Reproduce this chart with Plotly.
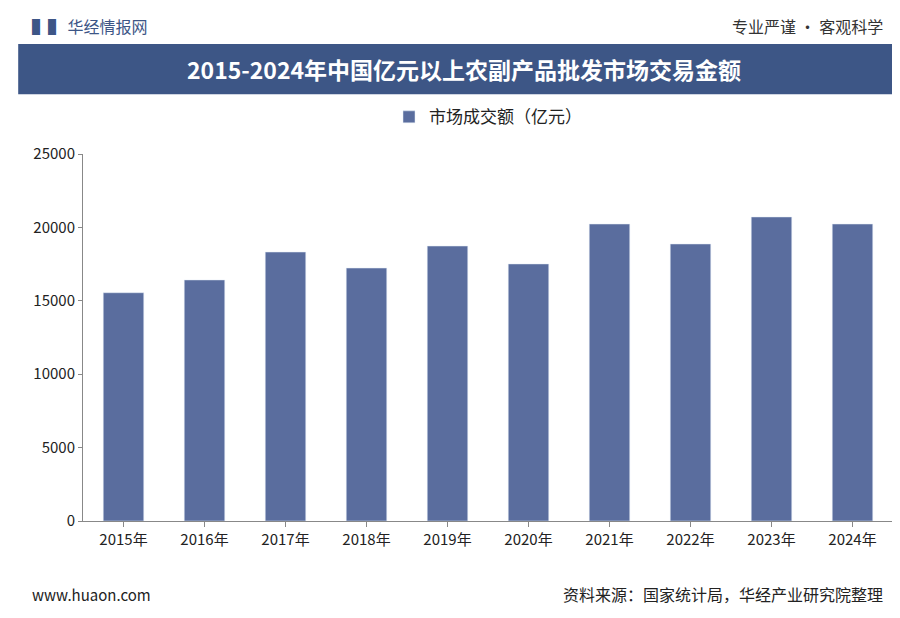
import plotly.graph_objects as go

# Market transaction data (100 million yuan)
years = ['2015年', '2016年', '2017年', '2018年', '2019年', '2020年', '2021年', '2022年', '2023年', '2024年']
amount = [15550, 16420, 18320, 17230, 18730, 17510, 20230, 18870, 20710, 20230]

# Create the plot
fig = go.Figure()
fig.add_trace(go.Bar(x=years, y=amount, name='市场成交额（亿元）', marker_color='#5a6d9e', width=0.5))

# Header, banner and footer
fig.add_shape(type='rect', xref='paper', yref='paper', x0=-0.08, x1=1.006, y0=1.163, y1=1.3,
              fillcolor='#3d5686', line_width=0, layer='below')
fig.add_annotation(text='<b>2015-2024年中国亿元以上农副产品批发市场交易金额</b>', xref='paper', yref='paper',
                   x=0.47, y=1.232, yanchor='middle', showarrow=False, font=dict(size=23, color='white'))
fig.add_annotation(text='<b>▌▌</b> 华经情报网', xref='paper', yref='paper', x=-0.065, y=1.35, xanchor='left',
                   yanchor='middle', showarrow=False, font=dict(size=16, color='#3d5686'))
fig.add_annotation(text='专业严谨 • 客观科学', xref='paper', yref='paper', x=0.99, y=1.35, xanchor='right',
                   yanchor='middle', showarrow=False, font=dict(size=16, color='#333'))
fig.add_annotation(text='www.huaon.com', xref='paper', yref='paper', x=-0.065, y=-0.2, xanchor='left',
                   yanchor='middle', showarrow=False, font=dict(size=15, color='#222'))
fig.add_annotation(text='资料来源：国家统计局，华经产业研究院整理', xref='paper', yref='paper', x=0.99, y=-0.2,
                   xanchor='right', yanchor='middle', showarrow=False, font=dict(size=16, color='#222'))

fig.update_layout(
    width=900, height=618, plot_bgcolor='white', paper_bgcolor='white',
    margin=dict(l=75, r=15, t=146, b=105),
    font=dict(family='Noto Sans CJK SC', size=15, color='#222'),
    legend=dict(orientation='h', x=0.5, xanchor='center', y=1.1, yanchor='middle', font=dict(size=17)),
    showlegend=True,
    yaxis=dict(range=[0, 25000], dtick=5000, tickformat='d', showgrid=False, showline=True, linecolor='#888',
               ticks='outside', ticklen=4, tickcolor='#888'),
    xaxis=dict(showline=True, linecolor='#888', ticks='outside', tickcolor='#888'),
)

fig.write_html('out.html')
